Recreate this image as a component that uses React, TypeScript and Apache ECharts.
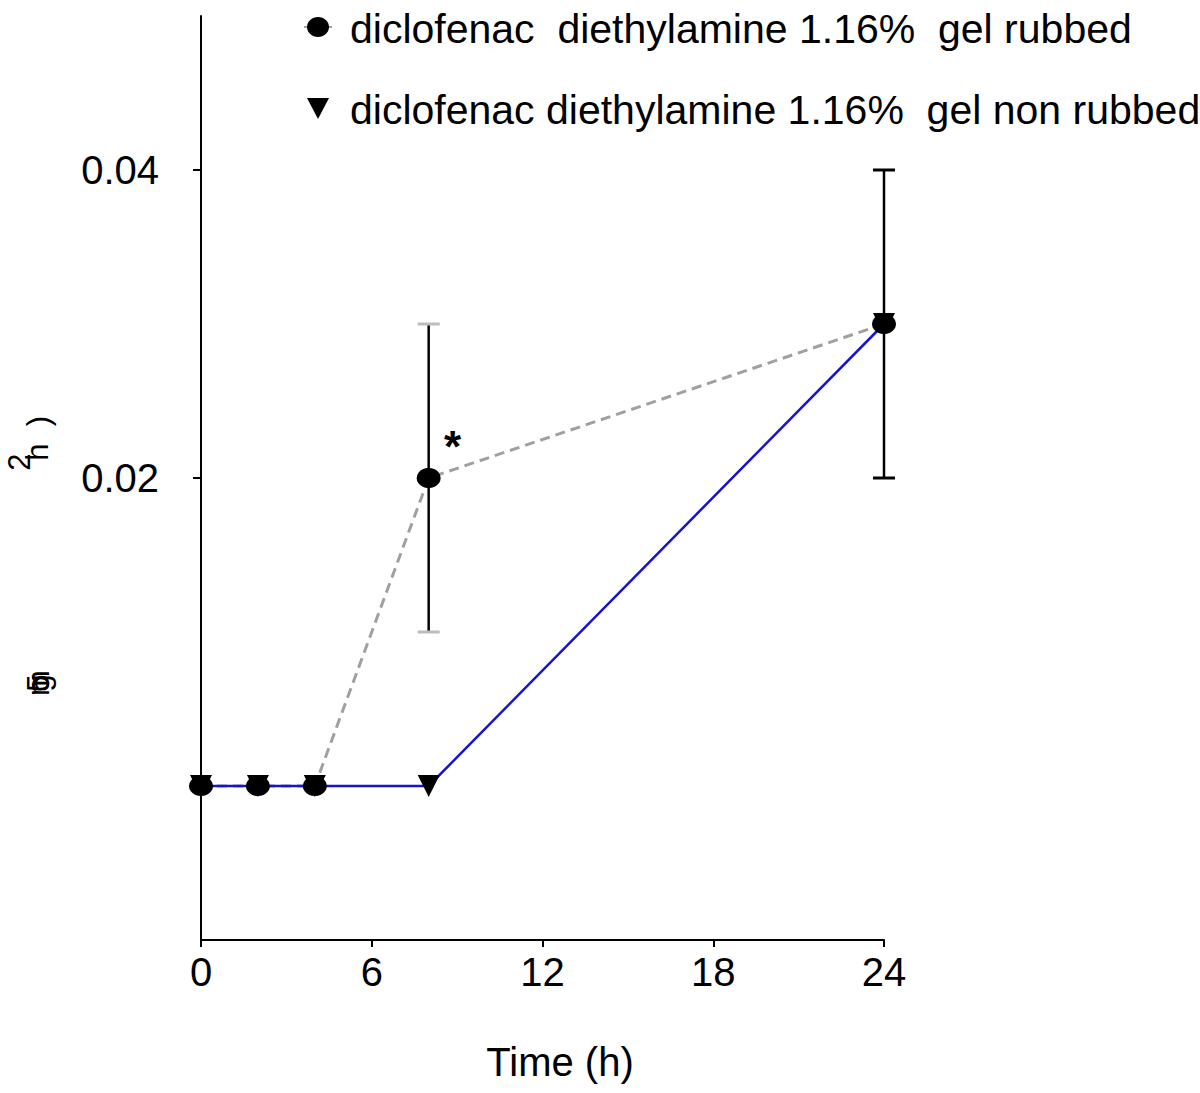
import React, { useEffect, useRef } from "react";
import * as echarts from "echarts";

const timePoints = [0, 2, 4, 8, 24];
const rubbedValues = [0, 0, 0, 0.02, 0.03];
const nonRubbedValues = [0, 0, 0, 0, 0.03];
const errorTimes = [8, 24];
const errorLow = [0.01, 0.02];
const errorHigh = [0.03, 0.04];
const xTicks = [0, 6, 12, 18, 24];
const yTickValues = [0.02, 0.04];
const legendRubbed = "diclofenac  diethylamine 1.16%  gel rubbed";
const legendNonRubbed = "diclofenac diethylamine 1.16%  gel non rubbed";

const FONT = "'Liberation Sans', Arial, sans-serif";

export default function App() {
  const ref = useRef<HTMLDivElement>(null);
  useEffect(() => {
    if (!ref.current) return;
    const chart = echarts.init(ref.current, undefined, { renderer: "svg" });
    const rubbedData = timePoints.map((t, i) => [t, rubbedValues[i]]);
    const nonRubbedData = timePoints.map((t, i) => [t, nonRubbedValues[i]]);
    const errData = errorTimes.map((t, i) => [t, errorLow[i], errorHigh[i], i]);

    const rotText = (text: string, x: number, y: number) => ({
      type: "text",
      x,
      y,
      rotation: Math.PI / 2,
      style: { text, fontSize: 31, fontFamily: FONT, fill: "#000", align: "center", verticalAlign: "middle" },
    });

    chart.setOption({
      animation: false,
      backgroundColor: "#ffffff",
      grid: { left: 201, right: 316, top: 16, bottom: 153, containLabel: false },
      xAxis: {
        type: "value",
        min: 0,
        max: 24,
        interval: 6,
        axisLine: { show: true, onZero: false, lineStyle: { color: "#000", width: 2 } },
        axisTick: { show: true, length: 7, lineStyle: { color: "#000", width: 2 }, customValues: xTicks },
        axisLabel: { color: "#000", fontSize: 40, fontFamily: FONT, margin: 12, customValues: xTicks },
        splitLine: { show: false },
      },
      yAxis: {
        type: "value",
        min: -0.01,
        max: 0.05,
        axisLine: { show: true, onZero: false, lineStyle: { color: "#000", width: 2 } },
        axisTick: { show: true, length: 8, lineStyle: { color: "#000", width: 2 }, customValues: yTickValues },
        axisLabel: {
          color: "#000",
          fontSize: 40,
          fontFamily: FONT,
          margin: 42,
          customValues: yTickValues,
          formatter: (v: number) => v.toFixed(2),
        },
        splitLine: { show: false },
      },
      series: [
        {
          type: "line",
          data: rubbedData,
          showSymbol: false,
          symbol: "none",
          lineStyle: { color: "#a0a0a0", width: 3, type: [10, 6] },
          z: 1,
        },
        {
          type: "line",
          data: nonRubbedData,
          showSymbol: false,
          symbol: "none",
          lineStyle: { color: "#1414d2", width: 2.5 },
          z: 2,
        },
        {
          type: "custom",
          data: errData,
          z: 3,
          renderItem: (params: any, api: any) => {
            const x = api.value(0);
            const lo = api.coord([x, api.value(1)]);
            const hi = api.coord([x, api.value(2)]);
            const idx = api.value(3);
            const capColor = idx === 0 ? "#bdbdbd" : "#000";
            const hw = 11;
            return {
              type: "group",
              children: [
                { type: "line", shape: { x1: lo[0], y1: lo[1], x2: hi[0], y2: hi[1] }, style: { stroke: "#000", lineWidth: 2.5 } },
                { type: "line", shape: { x1: lo[0] - hw, y1: lo[1], x2: lo[0] + hw, y2: lo[1] }, style: { stroke: capColor, lineWidth: 3 } },
                { type: "line", shape: { x1: hi[0] - hw, y1: hi[1], x2: hi[0] + hw, y2: hi[1] }, style: { stroke: capColor, lineWidth: 3 } },
              ],
            };
          },
        },
        {
          type: "scatter",
          data: nonRubbedData,
          symbol: "triangle",
          symbolRotate: 180,
          symbolSize: [22, 22],
          itemStyle: { color: "#000", opacity: 1 },
          z: 4,
        },
        {
          type: "scatter",
          data: rubbedData.map((d, i) =>
            i === 3
              ? {
                  value: d,
                  label: {
                    show: true,
                    formatter: "*",
                    position: "inside",
                    offset: [24, -32],
                    color: "#000",
                    fontSize: 44,
                    fontWeight: "bold",
                    fontFamily: FONT,
                  },
                }
              : { value: d }
          ),
          symbol: "circle",
          symbolSize: [24, 20],
          itemStyle: { color: "#000", opacity: 1 },
          z: 5,
        },
      ],
      graphic: [
        { type: "line", shape: { x1: 304, y1: 27, x2: 332, y2: 27 }, style: { stroke: "#a0a0a0", lineWidth: 2 } },
        { type: "ellipse", shape: { cx: 318, cy: 27, rx: 11, ry: 10 }, style: { fill: "#000" } },
        { type: "text", x: 350, y: 29, style: { text: legendRubbed, fontSize: 41, fontFamily: FONT, fill: "#000", verticalAlign: "middle" } },
        { type: "polygon", shape: { points: [[307, 98], [329, 98], [318, 119]] }, style: { fill: "#000" } },
        { type: "text", x: 350, y: 110, style: { text: legendNonRubbed, fontSize: 41, fontFamily: FONT, fill: "#000", verticalAlign: "middle" } },
        { type: "text", x: 560, y: 1062, style: { text: "Time (h)", fontSize: 40, fontFamily: FONT, fill: "#000", align: "center", verticalAlign: "middle" } },
        rotText(")", 38, 421),
        rotText("h", 37, 452),
        rotText("2", 19, 462),
        rotText("5", 38, 683),
        rotText("g", 38, 683),
        rotText("m", 38, 683),
      ],
    });
    return () => chart.dispose();
  }, []);
  return <div ref={ref} style={{ position: "absolute", left: 0, top: 0, width: 1200, height: 1093 }} />;
}
